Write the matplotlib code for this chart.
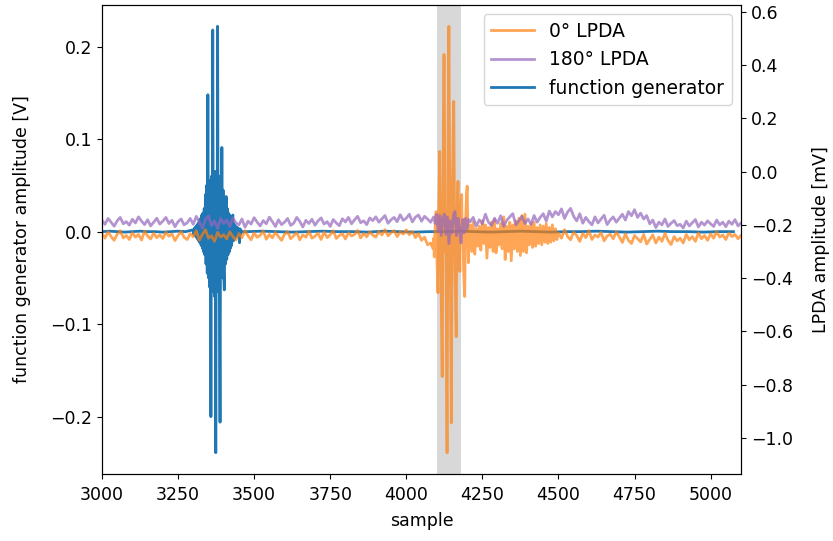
import numpy as np
import matplotlib
matplotlib.use('Agg')
import matplotlib.pyplot as plt

# function generator trace [mV]
fg_pre_x = np.arange(3000, 3300, 25)
fg_pre = [0, 0.5, 0, -0.5, 0, 0.5, 0, 0, -0.5, 0, 0.5, 0]
fg_pulse_x = np.arange(3300, 3461, 2)
fg_pulse = [2, -3, 4, -4, 5, -6, 7, -8, 9, -10,
            12, -12, 14, -15, 18, -18, 20, -22, 25, -25,
            40, -35, 50, -45, 148, -50, 55, -60, 50, -200,
            60, -55, 218, -65, 60, -70, 65, -239, 55, -65,
            222, -60, 60, -65, -206, 50, -45, 91, -50, 45,
            -45, -63, 30, -35, 38, -30, 25, -25, 20, -22,
            18, -18, 15, -15, 12, 18, -10, 8, -8, 6,
            -6, 5, -5, 4, -4, 3, -12, 3, -2, 1, 0]
fg_post_x = np.arange(3475, 5101, 50)
fg_post = [0, 0.5, 0, -0.5, 0, 0.5, 0, 0, -0.5, 0.5, 0, -0.5, 0, 0, 0.5, 0, -0.5,
           0, 0.5, 0, -0.5, 0, 0, 0.5, 0, -0.5, 0, 0.5, 0, 0, -0.5, 0, 0]

# 0 deg LPDA trace [uV]
lpda0_pre_x = np.arange(3000, 4090, 10)
lpda0_pre = [-232, -250, -226, -244, -258, -235, -222, -249, -240, -255,
             -229, -246, -236, -257, -224, -242, -253, -231, -248, -238,
             -251, -227, -243, -234, -259, -240, -225, -247, -255, -233,
             -245, -222, -258, -236, -218, -250, -241, -262, -228, -246,
             -237, -253, -226, -244, -257, -233, -248, -222, -241, -256,
             -230, -247, -239, -223, -254, -236, -249, -228, -244, -258,
             -235, -226, -252, -241, -229, -256, -238, -246, -224, -250,
             -243, -231, -255, -227, -248, -237, -222, -251, -240, -233,
             -253, -229, -242, -236, -221, -249, -232, -245, -226, -239,
             -246, -224, -238, -218, -241, -230, -222, -244, -226, -235,
             -219, -237, -225, -248, -232, -258, -246, -275, -268]
lpda0_pulse_x = [4088, 4090, 4092, 4094, 4096, 4098, 4100, 4102, 4104, 4106,
                 4108, 4110, 4112, 4114, 4116, 4118, 4120, 4122, 4124, 4126,
                 4128, 4130, 4132, 4134, 4136, 4138, 4140, 4142, 4144, 4146,
                 4148, 4150, 4152, 4154, 4156, 4158, 4160, 4162, 4164, 4166,
                 4168, 4170, 4172, 4174, 4176, 4178, 4180, 4182, 4184, 4186,
                 4188, 4190, 4192, 4194, 4196, 4198, 4200, 4202, 4204, 4206]
lpda0_pulse = [-290, -250, -320, -230, -180, -150, -300, -380, -455, -200,
               -60, 76, -150, -400, -600, -770, -300, 200, 440, 150,
               -300, -150, -700, -1056, -400, 250, 546, 100, -200, -600,
               -944, -400, -50, 150, 264, -100, -350, -500, -620, -250,
               -100, -36, -200, -300, -375, -180, -120, -86, -250, -180,
               -350, -420, -469, -260, -150, -90, -55, -200, -342, -250]
lpda0_tail_x = np.arange(4210, 4500, 5)
lpda0_tail = [-200, -300, -190, -310, -215, -280, -205, -295, -185, -270,
              -200, -325, -210, -285, -190, -300, -180, -305, -215, -275,
              -195, -290, -170, -330, -205, -300, -190, -335, -200, -290,
              -185, -300, -175, -315, -165, -300, -160, -305, -205, -275,
              -195, -285, -190, -280, -210, -270, -200, -275, -205, -265,
              -195, -270, -210, -265, -200, -260, -215, -255]
lpda0_post_x = np.arange(4500, 5101, 10)
lpda0_post = [-230, -250, -218, -244, -256, -227, -240, -262, -232, -248,
              -222, -255, -238, -246, -228, -260, -242, -235, -252, -226,
              -245, -266, -234, -258, -270, -240, -252, -264, -236, -272,
              -255, -238, -268, -246, -262, -232, -258, -274, -244, -260,
              -250, -268, -236, -256, -244, -262, -230, -252, -240, -258,
              -234, -250, -226, -246, -238, -255, -230, -244, -236, -252, -240]

# 180 deg LPDA trace [uV]
lpda180_pre_x = np.arange(3000, 4090, 10)
lpda180_pre = [-182, -198, -176, -190, -205, -185, -172, -196, -188, -201,
               -179, -193, -170, -186, -199, -181, -204, -190, -175, -197,
               -186, -172, -195, -183, -207, -188, -178, -200, -192, -176,
               -198, -168, -190, -212, -180, -166, -203, -185, -214, -176,
               -195, -182, -207, -174, -192, -200, -178, -209, -186, -197,
               -173, -190, -204, -184, -196, -171, -188, -206, -181, -199,
               -190, -176, -202, -194, -172, -187, -208, -183, -195, -179,
               -201, -185, -174, -197, -188, -206, -180, -193, -203, -177,
               -189, -172, -196, -181, -168, -192, -185, -199, -174, -184,
               -170, -190, -177, -165, -194, -181, -172, -188, -162, -183,
               -175, -160, -189, -171, -163, -186, -168, -178, -190]
lpda180_pulse_x = np.arange(4090, 4210, 5)
lpda180_pulse = [-170, -195, -160, -225, -165, -240, -175, -160, -235, -170, -270, -185,
                 -230, -165, -150, -240, -175, -215, -268, -180, -230, -175, -215, -180]
lpda180_post_x = np.arange(4210, 5101, 10)
lpda180_post = [-188, -172, -205, -181, -196, -160, -190, -202, -175,
                -194, -166, -206, -183, -170, -158, -200, -185, -168, -195,
                -178, -198, -165, -190, -172, -158, -186, -148, -170, -150,
                -162, -140, -176, -152, -138, -168, -185, -158, -194, -172,
                -188, -200, -170, -193, -178, -164, -199, -182, -170, -190,
                -175, -160, -182, -150, -166, -143, -172, -156, -178, -165,
                -196, -182, -210, -190, -200, -178, -206, -194, -184, -203,
                -198, -212, -186, -204, -192, -180, -208, -190, -201, -185,
                -196, -206, -182, -200, -190, -207, -186, -198, -180, -204, -193]

window = (4100, 4180)

fg_x = np.concatenate([fg_pre_x, fg_pulse_x, fg_post_x])
fg_v = np.concatenate([fg_pre, fg_pulse, fg_post]) / 1000.  # V
l0_x = np.concatenate([lpda0_pre_x, lpda0_pulse_x, lpda0_tail_x, lpda0_post_x])
l0_v = np.concatenate([lpda0_pre, lpda0_pulse, lpda0_tail, lpda0_post]) / 1000.  # mV
l180_x = np.concatenate([lpda180_pre_x, lpda180_pulse_x, lpda180_post_x])
l180_v = np.concatenate([lpda180_pre, lpda180_pulse, lpda180_post]) / 1000.  # mV

fs = 12.5
plt.rcParams['font.size'] = fs
fig, ax = plt.subplots(figsize = (8.33, 5.41), dpi = 100)
fig.subplots_adjust(left = 0.1224, right = 0.8896, bottom = 0.1238, top = 0.9908)

ax.axvspan(window[0], window[1], color = 'gray', alpha = 0.3, lw = 0)
l3, = ax.plot(fg_x, fg_v, color = 'tab:blue', lw = 2, label = 'function generator')
ax.set_xlim(3000, 5100)
ax.tick_params(axis = 'x', pad = 5)
ax.set_xlabel('sample', labelpad = 6)
ax.set_ylabel('function generator amplitude [V]', labelpad = 14)

ax2 = ax.twinx()
l1, = ax2.plot(l0_x, l0_v, color = 'tab:orange', lw = 2, alpha = 0.7, label = r'0° LPDA')
l2, = ax2.plot(l180_x, l180_v, color = 'tab:purple', lw = 2, alpha = 0.7, label = r'180° LPDA')
ax2.set_ylabel('LPDA amplitude [mV]', labelpad = 14)
ax2.legend(handles = [l1, l2, l3], loc = 'upper right', fontsize = 13.5, handlelength = 2.3)

fig.savefig('out.png', dpi = 100)
